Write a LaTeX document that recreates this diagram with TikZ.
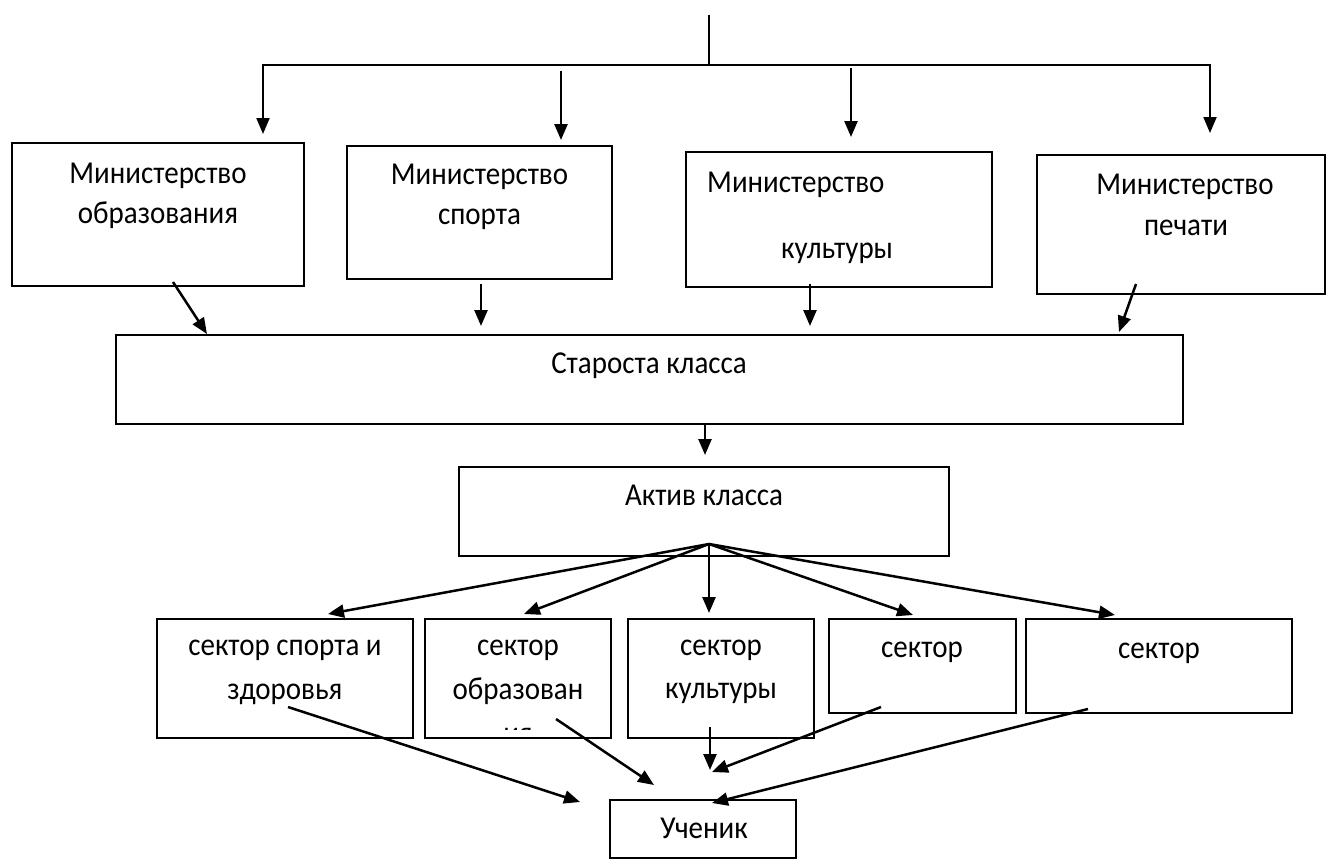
\documentclass[tikz,border=0pt]{standalone}
\usepackage{fontspec}
\usepackage{graphicx}
\setmainfont{Carlito}
\usetikzlibrary{arrows.meta}
\newcommand{\tx}[1]{\scalebox{1}[1.1]{#1}}
\begin{document}
\begin{tikzpicture}[x=1pt,y=-1pt,
  box/.style={draw,line width=2pt,inner sep=0pt,fill=none},
  lbl/.style={inner sep=0pt,anchor=base,font=\fontsize{29}{40}\selectfont},
  arr/.style={line width=2.5pt,-{Triangle[length=16pt,width=13pt]}},
  thinl/.style={line width=1.5pt}]
\useasboundingbox (0,0) rectangle (1326,860);
\fill[white] (0,0) rectangle (1326,860);
% boxes
\node[box,minimum width=292pt,minimum height=143pt] (m1) at (158,214.5) {};
\node[box,minimum width=265pt,minimum height=133pt] (m2) at (479.5,212.5) {};
\node[box,minimum width=306pt,minimum height=135pt] (m3) at (839,219.5) {};
\node[box,minimum width=288pt,minimum height=139pt] (m4) at (1181,224.5) {};
\node[box,minimum width=1067pt,minimum height=89pt] (st) at (649.5,379.5) {};
\node[box,minimum width=490pt,minimum height=89pt] (ak) at (704,511.5) {};
\node[box,minimum width=256pt,minimum height=119pt] (s1) at (285,678.5) {};
\node[box,minimum width=186pt,minimum height=119pt] (s2) at (518,678.5) {};
\node[box,minimum width=186pt,minimum height=119pt] (s3) at (721,678.5) {};
\node[box,minimum width=187pt,minimum height=94pt] (s4) at (922.5,666) {};
\node[box,minimum width=266pt,minimum height=94pt] (s5) at (1159,666) {};
\node[box,minimum width=186pt,minimum height=58pt] (uc) at (703,829) {};
% texts
\node[lbl] (t1a) at (158,183) {\tx{Министерство}};
\node[lbl] (t1b) at (158,223) {\tx{образования}};
\node[lbl] (t2a) at (479.5,184) {\tx{Министерство}};
\node[lbl] (t2b) at (479.5,224) {\tx{спорта}};
\node[lbl,anchor=base west] (t3a) at (707,192) {\tx{Министерство}};
\node[lbl,anchor=base west] (t3b) at (781,258) {\tx{культуры}};
\node[lbl] (t4a) at (1185,194) {\tx{Министерство}};
\node[lbl] (t4b) at (1186,235) {\tx{печати}};
\node[lbl] (tst) at (649,373) {\tx{Староста класса}};
\node[lbl] (tak) at (704,505) {\tx{Актив класса}};
\node[lbl] (ts1a) at (285,655) {\tx{сектор спорта и}};
\node[lbl] (ts1b) at (285,699) {\tx{здоровья}};
\node[lbl] (ts2a) at (518,655) {\tx{сектор}};
\node[lbl] (ts2b) at (518,699) {\tx{образован}};
\begin{scope}
\clip (425,619) rectangle (611,729);
\node[lbl] (ts2c) at (518,743) {\tx{ия}};
\end{scope}
\node[lbl] (ts3a) at (721,655) {\tx{сектор}};
\node[lbl] (ts3b) at (721,698) {\tx{культуры}};
\node[lbl] (ts4) at (922,657) {\tx{сектор}};
\node[lbl] (ts5) at (1159,658) {\tx{сектор}};
\node[lbl] (tuc) at (704,838) {\tx{Ученик}};
% connector points
\coordinate (top) at (709,15);
\coordinate (topj) at (709,65);
\coordinate (hl) at (263,65);
\coordinate (hr) at (1210,65);
\coordinate (a1) at (263,134);
\coordinate (a4) at (1210,133);
\coordinate (a2s) at (561,71);  \coordinate (a2e) at (561,140);
\coordinate (a3s) at (851,68);  \coordinate (a3e) at (851,137);
\coordinate (b1s) at (173,282); \coordinate (b1e) at (207,334);
\coordinate (b2s) at (481,284); \coordinate (b2e) at (481,326);
\coordinate (b3s) at (810,284); \coordinate (b3e) at (810,326);
\coordinate (b4s) at (1136,284); \coordinate (b4e) at (1119,332);
\coordinate (cs) at (705,424); \coordinate (ce) at (705,455);
\coordinate (fan) at (709,544);
\coordinate (f1) at (328,614);
\coordinate (f2) at (524,614);
\coordinate (f3) at (709,613);
\coordinate (f4) at (913,615);
\coordinate (f5) at (1115,615);
\coordinate (d1s) at (288,707); \coordinate (d1e) at (580,802);
\coordinate (d2s) at (556,719); \coordinate (d2e) at (654,785);
\coordinate (d3s) at (710,727); \coordinate (d3e) at (710,770);
\coordinate (d4s) at (881,707); \coordinate (d4e) at (712,772);
\coordinate (d5s) at (1088,709); \coordinate (d5e) at (712,803);
% connectors
\draw[thinl] (top) -- (topj);
\draw[line width=2pt,{Triangle[length=16pt,width=13pt]}-{Triangle[length=16pt,width=13pt]}] (a1) -- (hl) -- (hr) -- (a4);
\draw[arr] (a2s) -- (a2e);
\draw[arr] (a3s) -- (a3e);
\draw[arr] (b1s) -- (b1e);
\draw[arr] (b2s) -- (b2e);
\draw[arr] (b3s) -- (b3e);
\draw[arr] (b4s) -- (b4e);
\draw[arr] (cs) -- (ce);
\foreach \f in {f1,f2,f3,f4,f5} \draw[arr] (fan) -- (\f);
\draw[arr] (d1s) -- (d1e);
\draw[arr] (d2s) -- (d2e);
\draw[arr] (d3s) -- (d3e);
\draw[arr] (d4s) -- (d4e);
\draw[arr] (d5s) -- (d5e);
\end{tikzpicture}
\end{document}
